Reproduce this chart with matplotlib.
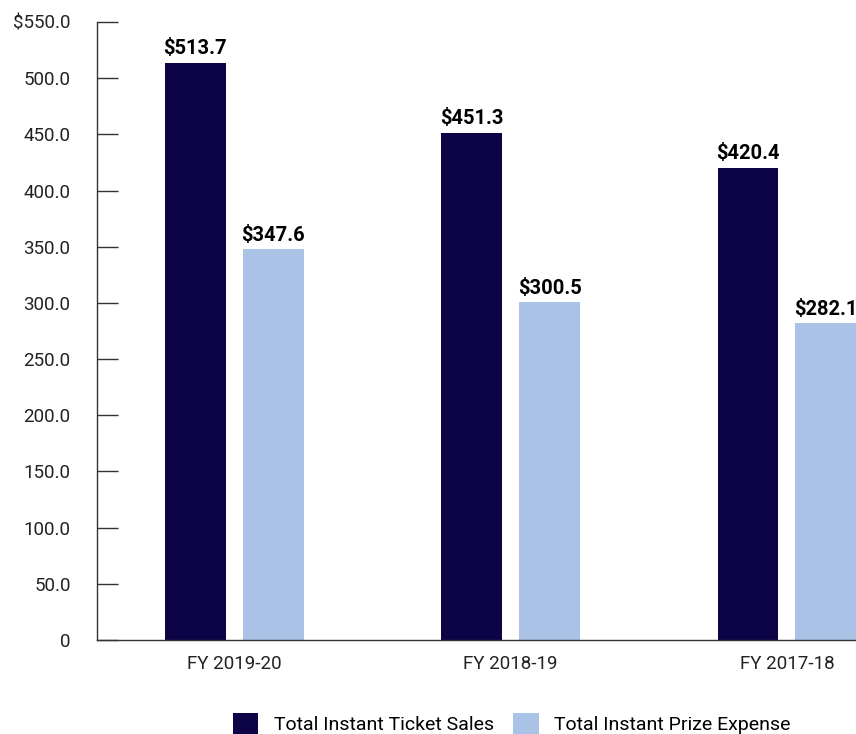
import matplotlib
matplotlib.use("Agg")
import matplotlib.pyplot as plt
import numpy as np

categories = ["FY 2019-20", "FY 2018-19", "FY 2017-18"]
ticket_sales = [513.7, 451.3, 420.4]
prize_expense = [347.6, 300.5, 282.1]
series_names = ["Total Instant Ticket Sales", "Total Instant Prize Expense"]
y_ticks = [0, 50, 100, 150, 200, 250, 300, 350, 400, 450, 500, 550]
y_tick_labels = ["0", "50.0", "100.0", "150.0", "200.0", "250.0", "300.0",
                 "350.0", "400.0", "450.0", "500.0", "$550.0"]

plt.rcParams['font.family'] = ['Roboto', 'DejaVu Sans']

dark = "#0c0447"
light = "#a9c2e6"

fig = plt.figure(figsize=(8.56, 7.34), dpi=100)
ax = fig.add_axes([97/856, 94/734, 1 - 97/856, (640-22)/734])

x = np.arange(len(categories))
w = 0.22
off = 0.141
b1 = ax.bar(x - off, ticket_sales, w, color=dark, label=series_names[0])
b2 = ax.bar(x + off, prize_expense, w, color=light, label=series_names[1])

for bars, vals in ((b1, ticket_sales), (b2, prize_expense)):
    for b, v in zip(bars, vals):
        ax.text(b.get_x() + b.get_width()/2, v + 4, f"${v:.1f}", ha="center",
                va="bottom", fontsize=14.5, fontweight="bold", color="black")

ax.set_xlim(-0.497, 2.25)
ax.set_ylim(0, 550)
ax.set_yticks(y_ticks)
ax.set_yticklabels(y_tick_labels, fontsize=13.5, color="#222222")
ax.set_xticks(x)
ax.set_xticklabels(categories, fontsize=13.5, color="#222222")
ax.tick_params(axis="y", direction="in", length=15, width=1, pad=19, color="#333333")
ax.tick_params(axis="x", length=0, pad=11)
for s in ("top", "right"):
    ax.spines[s].set_visible(False)
for s in ("left", "bottom"):
    ax.spines[s].set_color("#333333")
    ax.spines[s].set_linewidth(1)

fig.legend(handles=[b1, b2], labels=series_names, loc="center",
           bbox_to_anchor=(0.598, 0.014), ncol=2, frameon=False, fontsize=14,
           handlelength=1.3, handleheight=1.3, columnspacing=1.0, handletextpad=0.8)

fig.savefig("out.png", dpi=100)
